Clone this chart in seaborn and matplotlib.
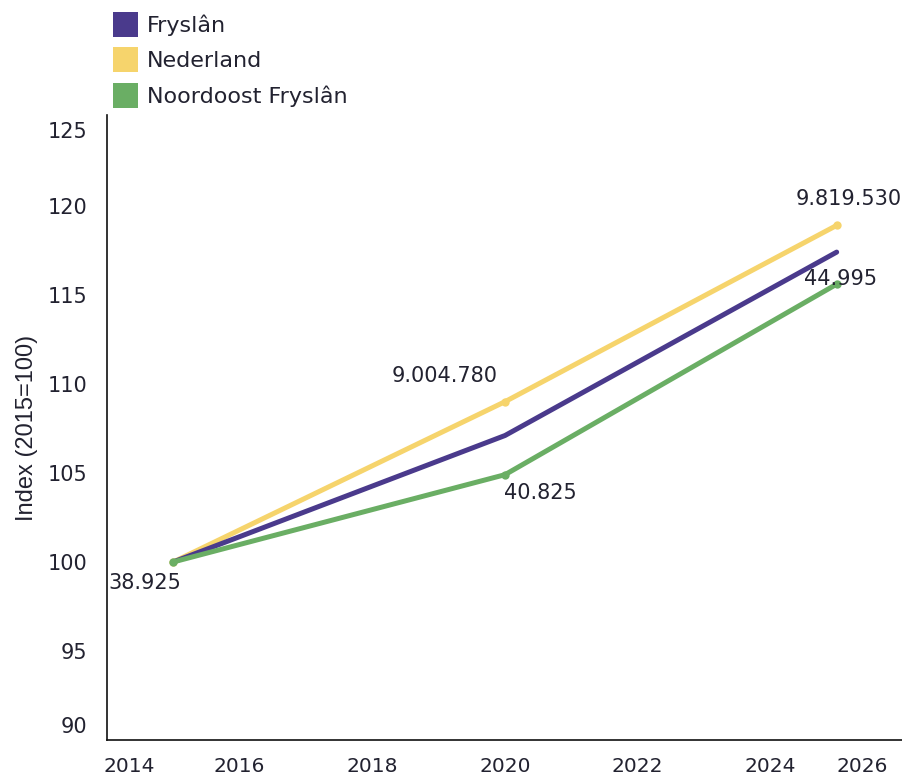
import numpy as np
import pandas as pd
import matplotlib
matplotlib.use("Agg")
import matplotlib.pyplot as plt
import matplotlib.transforms as mtransforms
from matplotlib.lines import Line2D
import seaborn as sns

# --- data ---
years = [2015, 2020, 2025]
series_names = ["Fryslân", "Nederland", "Noordoost Fryslân"]
fryslan = [100.0, 107.1, 117.4]
nederland = [100.0, 109.0, 118.9]
noordoost = [100.0, 104.9, 115.6]

colors = {"Fryslân": "#4a3a8c", "Nederland": "#f6d46c", "Noordoost Fryslân": "#6aae64"}
x_ticks = [2014, 2016, 2018, 2020, 2022, 2024, 2026]
y_ticks = [90, 95, 100, 105, 110, 115, 120, 125]

# data labels: (series, year index, text, offset in pixels)
point_labels = [
    ("Noordoost Fryslân", 0, "38.925", (-29, -21)),
    ("Nederland", 1, "9.004.780", (-60, 26)),
    ("Noordoost Fryslân", 1, "40.825", (35, -18)),
    ("Nederland", 2, "9.819.530", (12, 26)),
    ("Noordoost Fryslân", 2, "44.995", (4, 5)),
]

df = pd.DataFrame({
    "year": years * 3,
    "value": fryslan + nederland + noordoost,
    "series": sum([[n] * len(years) for n in series_names], []),
})

sns.set_style("white")
plt.rcParams["font.family"] = ["DejaVu Sans"]
text_col = "#222230"

fig = plt.figure(figsize=(9.03, 7.77), dpi=100)
ax = fig.add_axes([107 / 903, 1 - 740 / 777, 796 / 903, 625 / 777])

# draw order: yellow, purple, green on top
draw = [("Nederland", True), ("Fryslân", False), ("Noordoost Fryslân", True)]
for name, mk in draw:
    sub = df[df["series"] == name]
    sns.lineplot(data=sub, x="year", y="value", ax=ax, color=colors[name],
                 linewidth=3.6, marker="o" if mk else None, markersize=6,
                 markeredgewidth=0, legend=False)

for name, i, txt, off in point_labels:
    yv = df[(df["series"] == name)]["value"].iloc[i]
    ax.annotate(txt, (years[i], yv), xytext=off, textcoords="offset pixels",
                ha="center", va="center", fontsize=15, color=text_col)

ax.set_xlim(2014, 2026)
ax.set_ylim(90, 125.1)
ax.set_xticks(x_ticks)
ax.set_yticks(y_ticks)
ax.tick_params(axis="both", length=0, labelsize=15, labelcolor=text_col)
ax.tick_params(axis="x", pad=12, labelsize=14.5)
ax.tick_params(axis="y", pad=14)
ax.set_xlabel("")
ax.set_ylabel("Index (2015=100)", fontsize=17, color=text_col, family="Liberation Sans")
ax.yaxis.set_label_coords(-0.087, 0.50)

# shift edge tick labels inward like the source
xl = ax.get_xticklabels()
xl[0].set_transform(xl[0].get_transform() + mtransforms.ScaledTranslation(0.22, 0, fig.dpi_scale_trans))
xl[-1].set_transform(xl[-1].get_transform() + mtransforms.ScaledTranslation(-0.41, 0, fig.dpi_scale_trans))
yl = ax.get_yticklabels()
yl[0].set_transform(yl[0].get_transform() + mtransforms.ScaledTranslation(0, 0.15, fig.dpi_scale_trans))
yl[-1].set_transform(yl[-1].get_transform() + mtransforms.ScaledTranslation(0, -0.13, fig.dpi_scale_trans))

for s in ["top", "right"]:
    ax.spines[s].set_visible(False)
for s in ["left", "bottom"]:
    ax.spines[s].set_color("#111111")
    ax.spines[s].set_linewidth(1.2)

handles = [Line2D([], [], linestyle="none", marker="s", markersize=18,
                  markerfacecolor=colors[n], markeredgewidth=0) for n in series_names]
fig.legend(handles, series_names, loc="upper left", bbox_to_anchor=(95 / 903, 1.004),
           frameon=False, fontsize=16, labelspacing=0.66, handlelength=1.1,
           handletextpad=0.42, borderpad=0.3, labelcolor=text_col)

fig.savefig("out.png", dpi=100)
